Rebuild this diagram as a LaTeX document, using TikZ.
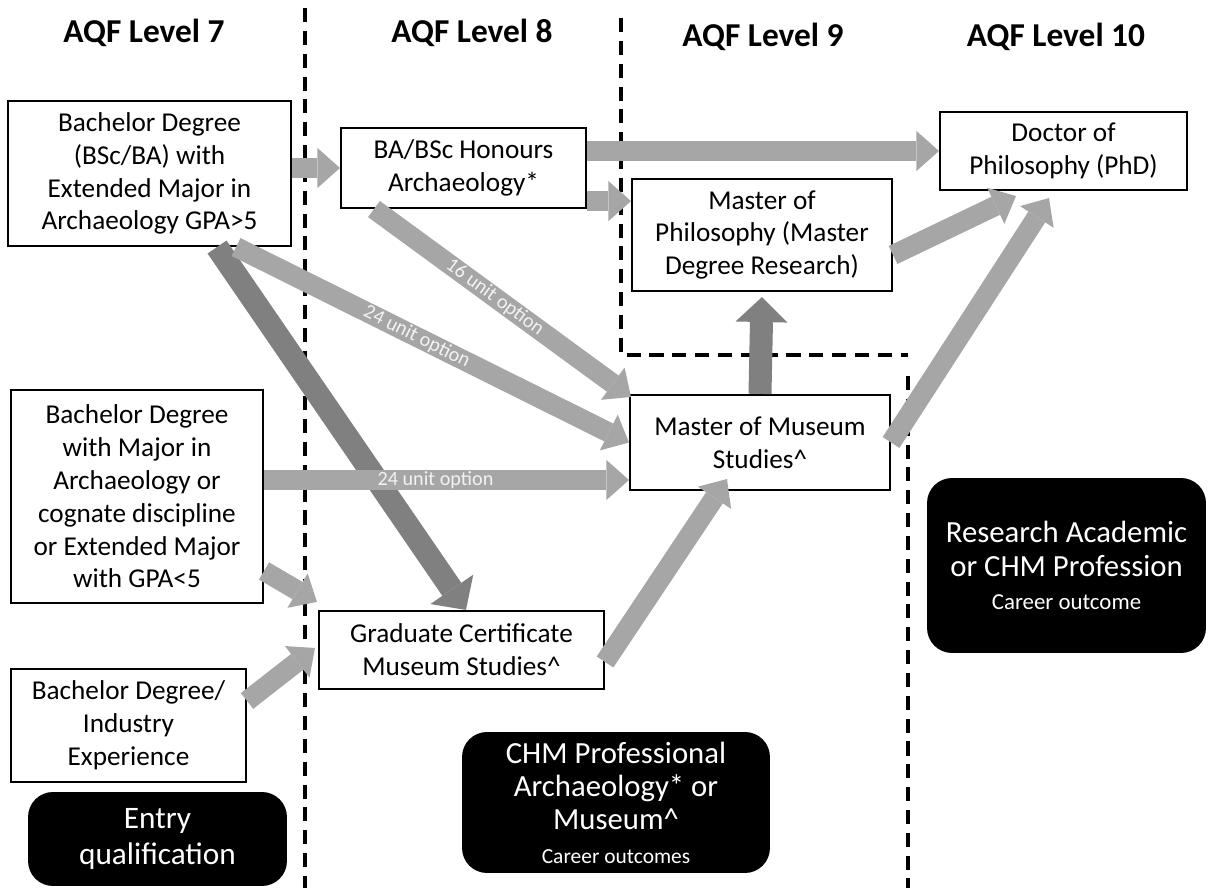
\documentclass[tikz,border=0pt]{standalone}
\usepackage{fontspec}
\setmainfont{Carlito}
\usetikzlibrary{arrows.meta,calc}

\begin{document}
\begin{tikzpicture}[x=0.02cm,y=-0.02cm,
  box node/.style={draw,line width=1.2pt,fill=white,align=center,inner sep=0pt,
    font=\fontsize{15.5}{18.7}\selectfont},
  out node/.style={fill=black,text=white,rounded corners=0.5cm,align=center,inner sep=0pt,
    font=\fontsize{17.5}{19}\selectfont},
  level node/.style={font=\fontsize{19}{22}\selectfont\bfseries},
  div line/.style={line width=2pt,dash pattern=on 8pt off 5pt},
  flow/.style={draw,color=black!35,line width=0.4cm,
    -{Triangle[width=0.8cm,length=0.45cm,line width=0pt]}},
  dark flow/.style={draw,color=black!50,line width=0.46cm,
    -{Triangle[width=1.04cm,length=0.5cm,line width=0pt]}},
  flow label/.style={text=white!95!black,font=\fontsize{11.5}{12}\selectfont,sloped,inner sep=1pt}]
  \useasboundingbox (0,0) rectangle (1208,888);

  % column headings and dividers
  \node[level node] (l7) at (144,33) {AQF Level 7};
  \node[level node] (l8) at (472,33) {AQF Level 8};
  \node[level node] (l9) at (763,37) {AQF Level 9};
  \node[level node] (l10) at (1056,37) {AQF Level 10};
  \draw[div line] (305,8) -- (305,888);
  \draw[div line] (621,18) -- (621,355) -- (908,355);
  \draw[div line] (908,376) -- (908,888);

  % qualifications
  \node[box node,minimum width=5.66cm,minimum height=2.9cm] (b1) at (149.5,173.5)
    {Bachelor Degree\\(BSc/BA) with\\Extended Major in\\Archaeology GPA>5};
  \node[box node,minimum width=5.04cm,minimum height=4.26cm] (b2) at (137,496.5)
    {Bachelor Degree\\with Major in\\Archaeology or\\cognate discipline\\or Extended Major\\with GPA<5};
  \node[box node,minimum width=4.7cm,minimum height=2.26cm] (b3) at (128.5,725.5)
    {Bachelor Degree/\\Industry\\Experience};
  \node[box node,minimum width=4.9cm,minimum height=1.6cm] (hons) at (463.5,168)
    {BA/BSc Honours\\Archaeology*};
  \node[box node,minimum width=5.2cm,minimum height=2.24cm] (mphil) at (762,235)
    {Master of\\Philosophy (Master\\Degree Research)};
  \node[box node,minimum width=4.94cm,minimum height=1.56cm] (phd) at (1063.5,151)
    {Doctor of\\Philosophy (PhD)};
  \node[box node,minimum width=5.2cm,minimum height=1.9cm] (mms) at (760,442.5)
    {Master of Museum\\Studies\textasciicircum};
  \node[box node,minimum width=5.7cm,minimum height=1.56cm] (gc) at (461.5,650)
    {Graduate Certificate\\Museum Studies\textasciicircum};

  % outcomes
  \node[out node,minimum width=5.18cm,minimum height=1.88cm,font=\fontsize{17.8}{21}\selectfont] (entry) at (157.5,839)
    {Entry\\qualification};
  \node[out node,minimum width=6.16cm,minimum height=2.82cm] (chm) at (616,802.5)
    {CHM Professional\\Archaeology* or\\Museum\textasciicircum\\{\fontsize{12.2}{15}\selectfont Career outcomes}};
  \node[out node,minimum width=5.58cm,minimum height=3.5cm] (res) at (1066.5,565.5)
    {Research Academic\\or CHM Profession\\{\fontsize{13}{15}\selectfont Career outcome}};

  % pathways
  \path[every edge/.style=dark flow]
    ($(b1.south east)+(-75,0)$) edge ($(gc.north west)+(148,0)$)
    (mms.north) edge ($(mphil.south)+(0,5)$);
  \path[every edge/.style=flow]
    (b1.east |- hons.west) edge (hons.west)
    (hons.east |- phd.west) edge (phd.west)
    (hons.-15) edge (mphil.west |- hons.-15)
    ($(hons.south west)+(34,0)$) edge node[flow label,pos=0.47] {16 unit option} ($(mms.north west)+(2,3)$)
    ($(b1.south east)+(-56,0)$) edge node[flow label,pos=0.46] {24 unit option} (mms.west)
    (b2.east |- 0,480) edge node[flow label,pos=0.47] {24 unit option} (mms.west |- 0,480)
    ($(b2.north east)+(0,182)$) edge ($(gc.north west)+(-1,-8)$)
    ($(b3.north east)+(0,33)$) edge ($(gc.west)+(-3,-2)$)
    ($(gc.east)+(0,12)$) edge ($(mms.south west)+(98,-12)$)
    ($(mphil.east)+(0,20)$) edge ($(phd.south east)+(-172,5)$)
    (mms.east) edge ($(phd.south east)+(-139,7)$);
\end{tikzpicture}
\end{document}
